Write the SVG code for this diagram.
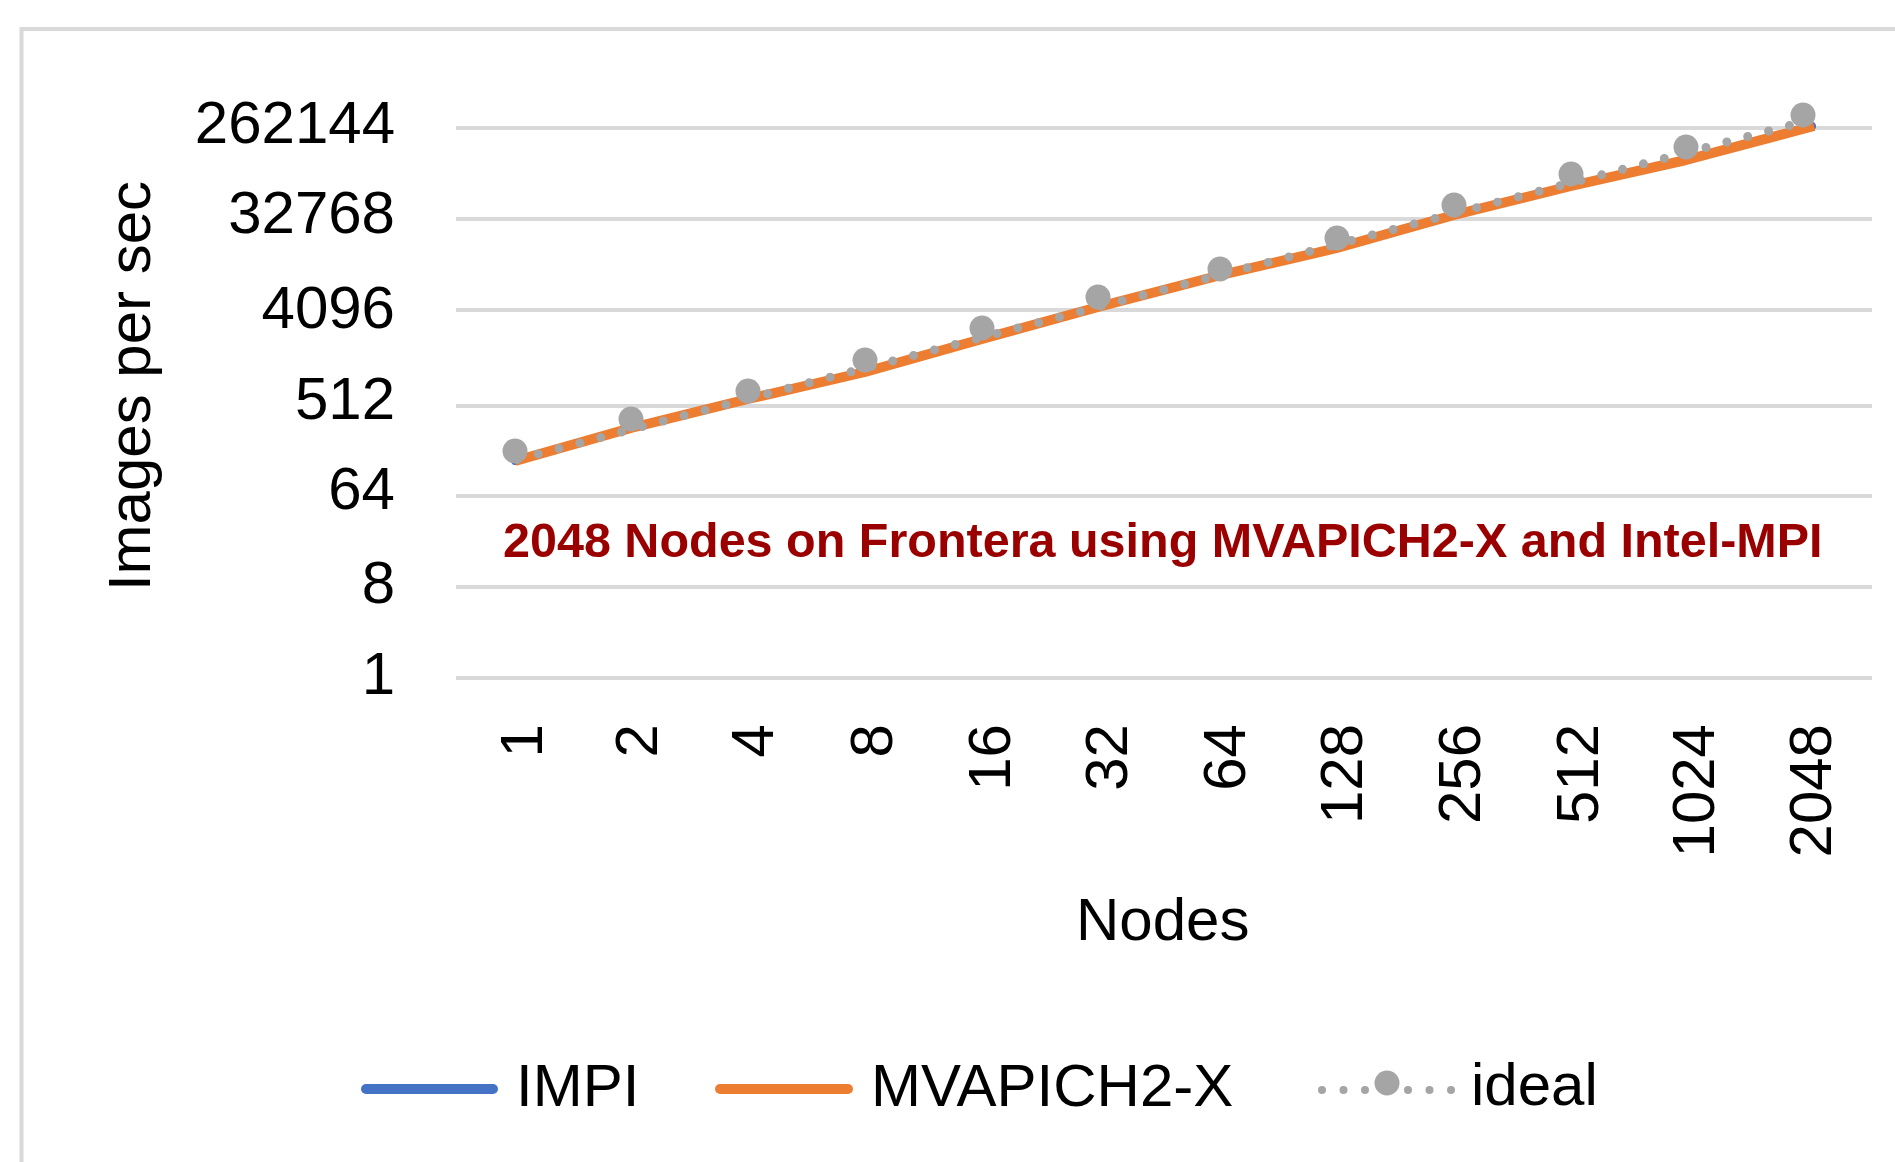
<svg xmlns="http://www.w3.org/2000/svg" width="1895" height="1162" viewBox="0 0 1895 1162">
  <style>
    .frame { fill: none; stroke: #D9D9D9; stroke-width: 4; }
    .grid { stroke: #D9D9D9; stroke-width: 4; }
    .tick { font-family: "Liberation Sans", Arial, sans-serif; font-size: 60px; fill: #000000; }
    .ytick { text-anchor: end; }
    .xtick { text-anchor: end; }
    .title { font-family: "Liberation Sans", Arial, sans-serif; font-size: 60px; fill: #000000; }
    .note { font-family: "Liberation Sans", Arial, sans-serif; font-size: 48.5px; font-weight: bold; fill: #9A0000; }
    .impi { fill: none; stroke: #4472C4; stroke-width: 10; stroke-linecap: round; stroke-linejoin: round; }
    .mva { fill: none; stroke: #ED7D31; stroke-width: 10; stroke-linecap: butt; stroke-linejoin: round; }
    .legline { stroke-linecap: round; }
    .ideal { fill: none; stroke: #A5A5A5; stroke-width: 9; stroke-linecap: round; stroke-dasharray: 0 21.56; }
    .marker { fill: #A5A5A5; }
    .leg { font-family: "Liberation Sans", Arial, sans-serif; font-size: 60px; fill: #000000; }
  </style>

  <rect x="0" y="0" width="1895" height="1162" fill="#FFFFFF"/>

  <g id="chart-frame">
    <path class="frame" d="M21.5,1162 V29 H1895"/>
  </g>

  <g id="gridlines">
    <line class="grid" x1="456" y1="128" x2="1872" y2="128"/>
    <line class="grid" x1="456" y1="219" x2="1872" y2="219"/>
    <line class="grid" x1="456" y1="310" x2="1872" y2="310"/>
    <line class="grid" x1="456" y1="406" x2="1872" y2="406"/>
    <line class="grid" x1="456" y1="496" x2="1872" y2="496"/>
    <line class="grid" x1="456" y1="587" x2="1872" y2="587"/>
    <line class="grid" x1="456" y1="678" x2="1872" y2="678"/>
  </g>

  <g id="y-axis-labels" class="tick ytick">
    <text x="395" y="143">262144</text>
    <text x="395" y="233">32768</text>
    <text x="395" y="328">4096</text>
    <text x="395" y="419">512</text>
    <text x="395" y="509">64</text>
    <text x="395" y="603">8</text>
    <text x="395" y="694">1</text>
  </g>

  <g id="x-axis-labels" class="tick xtick">
    <text transform="translate(541.5,724) rotate(-90)">1</text>
    <text transform="translate(656.5,724) rotate(-90)">2</text>
    <text transform="translate(772.5,724) rotate(-90)">4</text>
    <text transform="translate(891.5,724) rotate(-90)">8</text>
    <text transform="translate(1009.5,724) rotate(-90)">16</text>
    <text transform="translate(1126.5,724) rotate(-90)">32</text>
    <text transform="translate(1244.5,724) rotate(-90)">64</text>
    <text transform="translate(1361.5,724) rotate(-90)">128</text>
    <text transform="translate(1479.5,724) rotate(-90)">256</text>
    <text transform="translate(1597.5,724) rotate(-90)">512</text>
    <text transform="translate(1713.5,724) rotate(-90)">1024</text>
    <text transform="translate(1830.5,724) rotate(-90)">2048</text>
  </g>

  <g id="y-axis-title">
    <text class="title" text-anchor="middle" transform="translate(150,386) rotate(-90)">Images per sec</text>
  </g>

  <g id="x-axis-title">
    <text class="title" x="1076" y="940">Nodes</text>
  </g>

  <g id="annotation">
    <text class="note" x="503" y="557">2048 Nodes on Frontera using MVAPICH2-X and Intel-MPI</text>
  </g>

  <g id="series">
    <polyline id="series-impi" class="impi" style="stroke-width:8" points="515,461 631,428 748,399 865,372 982,339 1098,307 1221,275 1337,248 1454,215 1571,186 1686,160 1812,126"/>
    <polyline id="series-mvapich2x" class="mva" points="515,461 631,428 748,399 865,372 982,339 1098,307 1221,275 1337,248 1454,215 1571,186 1686,160 1814,126"/>
    <line id="series-ideal-line" class="ideal" x1="515" y1="460" x2="1803" y2="122" style="stroke-dashoffset:-2.4"/>
    <g id="series-ideal-markers" class="marker">
      <circle cx="515" cy="451" r="12.5"/>
      <circle cx="631" cy="419" r="12.5"/>
      <circle cx="748" cy="391" r="12.5"/>
      <circle cx="865" cy="360" r="12.5"/>
      <circle cx="982" cy="328" r="12.5"/>
      <circle cx="1098" cy="297" r="12.5"/>
      <circle cx="1220" cy="269" r="12.5"/>
      <circle cx="1337" cy="238" r="12.5"/>
      <circle cx="1454" cy="205" r="12.5"/>
      <circle cx="1571" cy="174" r="12.5"/>
      <circle cx="1686" cy="147" r="12.5"/>
      <circle cx="1803" cy="115" r="12.5"/>
    </g>
  </g>

  <g id="legend">
    <g id="legend-impi">
      <line class="impi" x1="366" y1="1089" x2="493" y2="1089"/>
      <text class="leg" x="516" y="1106">IMPI</text>
    </g>
    <g id="legend-mvapich2x">
      <line class="mva legline" x1="720" y1="1089" x2="848" y2="1089"/>
      <text class="leg" x="871" y="1106">MVAPICH2-X</text>
    </g>
    <g id="legend-ideal">
      <line class="ideal" style="stroke-dasharray:0 21.5;stroke-width:8" x1="1322" y1="1090" x2="1452" y2="1090"/>
      <circle class="marker" cx="1387" cy="1083" r="12.5"/>
      <text class="leg" x="1471" y="1105">ideal</text>
    </g>
  </g>
</svg>
